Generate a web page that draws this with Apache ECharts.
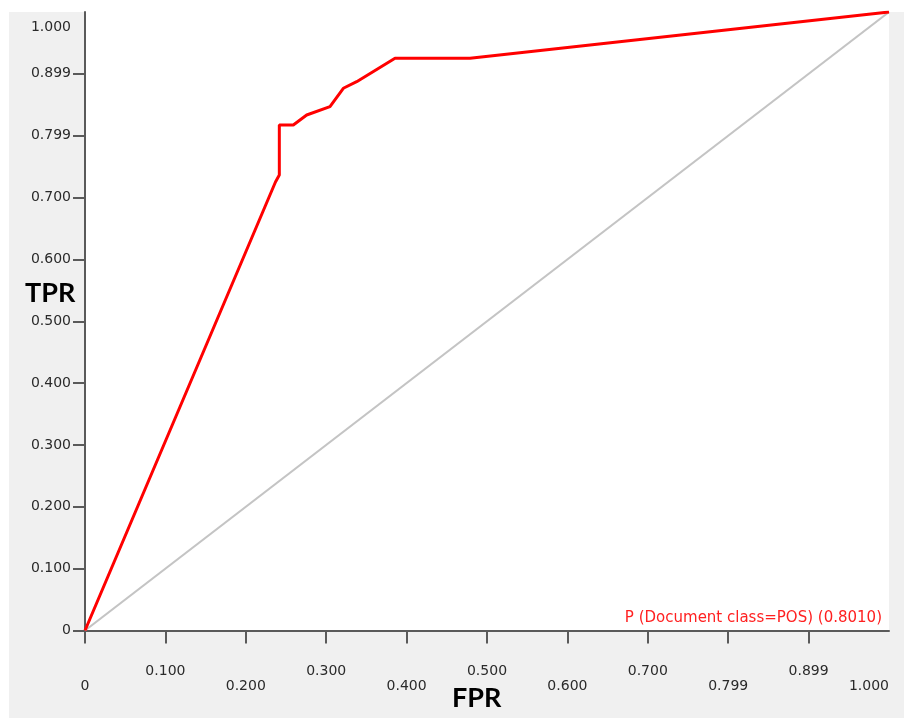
<!DOCTYPE html>
<html>
<head>
<meta charset="utf-8">
<script src="https://cdn.jsdelivr.net/npm/echarts@6/dist/echarts.min.js"></script>
<style>html,body{margin:0;padding:0;background:#fff}#c{width:904px;height:718px}</style>
</head>
<body>
<div id="c"></div>
<script>
const fprValues = [0, 0.2369, 0.2417, 0.2417, 0.2591, 0.2757, 0.3047, 0.3213, 0.3379, 0.3856, 0.4789, 1.0];
const tprValues = [0, 0.7252, 0.7365, 0.8173, 0.8173, 0.8335, 0.8469, 0.8767, 0.8873, 0.9252, 0.9252, 1.0];
const diagX = [0, 1];
const diagY = [0, 1];
const tickLabels = ['0', '0.100', '0.200', '0.300', '0.400', '0.500', '0.600', '0.700', '0.799', '0.899', '1.000'];
const tickMarks = [0, 0.1, 0.2, 0.3, 0.4, 0.5, 0.6, 0.7, 0.8, 0.9];
const legendText = 'P (Document class=POS) (0.8010)';
const xName = 'FPR';
const yName = 'TPR';

const rocData = fprValues.map((x, i) => [x, tprValues[i]]);
const diagData = diagX.map((x, i) => [x, diagY[i]]);
const FONT = 'DejaVu Sans';
const LABEL_COLOR = '#2a2a2a';
const NAME_FONT = 'bold 27px Lato, "Open Sans", sans-serif';

const chart = echarts.init(document.getElementById('c'));
chart.setOption({
  backgroundColor: '#f0f0f0',
  animation: false,
  graphic: [
    { type: 'rect', z: -1, shape: { x: 0, y: 0, width: 904, height: 12 }, style: { fill: '#ffffff' }, silent: true },
    { type: 'rect', z: -1, shape: { x: 0, y: 0, width: 9, height: 718 }, style: { fill: '#ffffff' }, silent: true },
    { type: 'text', x: 25, y: 280, style: { text: yName, font: NAME_FONT, fill: '#000' } },
    { type: 'text', x: 452, y: 685, style: { text: xName, font: NAME_FONT, fill: '#000' } },
    { type: 'text', right: 22, top: 611, style: { text: legendText, font: '15px "DejaVu Sans", sans-serif', fill: '#ff2020' } }
  ],
  grid: { left: 85, right: 15, top: 12, bottom: 87.5, show: true, backgroundColor: '#ffffff', borderWidth: 0 },
  xAxis: {
    type: 'value', min: 0, max: 1, interval: 0.1,
    splitLine: { show: false },
    axisLine: { show: true, lineStyle: { color: '#5a5a5a', width: 2 } },
    axisTick: { show: true, length: 13, customValues: tickMarks, lineStyle: { color: '#5a5a5a', width: 2 } },
    axisLabel: {
      margin: 34, alignMaxLabel: 'right', showMaxLabel: true, showMinLabel: true,
      color: LABEL_COLOR, fontFamily: FONT, fontSize: 14,
      formatter: function (v) {
        const i = Math.round(v * 10);
        return i % 2 === 1 ? '{hi|' + tickLabels[i] + '}' : '{lo|' + tickLabels[i] + '}';
      },
      rich: {
        hi: { color: LABEL_COLOR, fontFamily: FONT, fontSize: 14 },
        lo: { color: LABEL_COLOR, fontFamily: FONT, fontSize: 14, padding: [15, 0, 0, 0] }
      }
    }
  },
  yAxis: {
    type: 'value', min: 0, max: 1, interval: 0.1,
    splitLine: { show: false },
    axisLine: { show: true, lineStyle: { color: '#5a5a5a', width: 2 } },
    axisTick: { show: true, length: 12, customValues: tickMarks, lineStyle: { color: '#5a5a5a', width: 2 } },
    axisLabel: {
      margin: 14, showMaxLabel: true, color: LABEL_COLOR, fontFamily: FONT, fontSize: 14,
      formatter: function (v) {
        const i = Math.round(v * 10);
        return i === 10 ? '{top|' + tickLabels[i] + '}' : tickLabels[i];
      },
      rich: {
        top: { color: LABEL_COLOR, fontFamily: FONT, fontSize: 14, padding: [30, 0, 0, 0] }
      }
    }
  },
  series: [
    {
      type: 'line', data: diagData, symbol: 'none', silent: true,
      lineStyle: { color: '#c4c4c4', width: 2.2 }, z: 2
    },
    {
      type: 'line', data: rocData, symbol: 'none', silent: true,
      lineStyle: { color: '#ff0000', width: 3 }, z: 3
    }
  ]
});
</script>
</body>
</html>
